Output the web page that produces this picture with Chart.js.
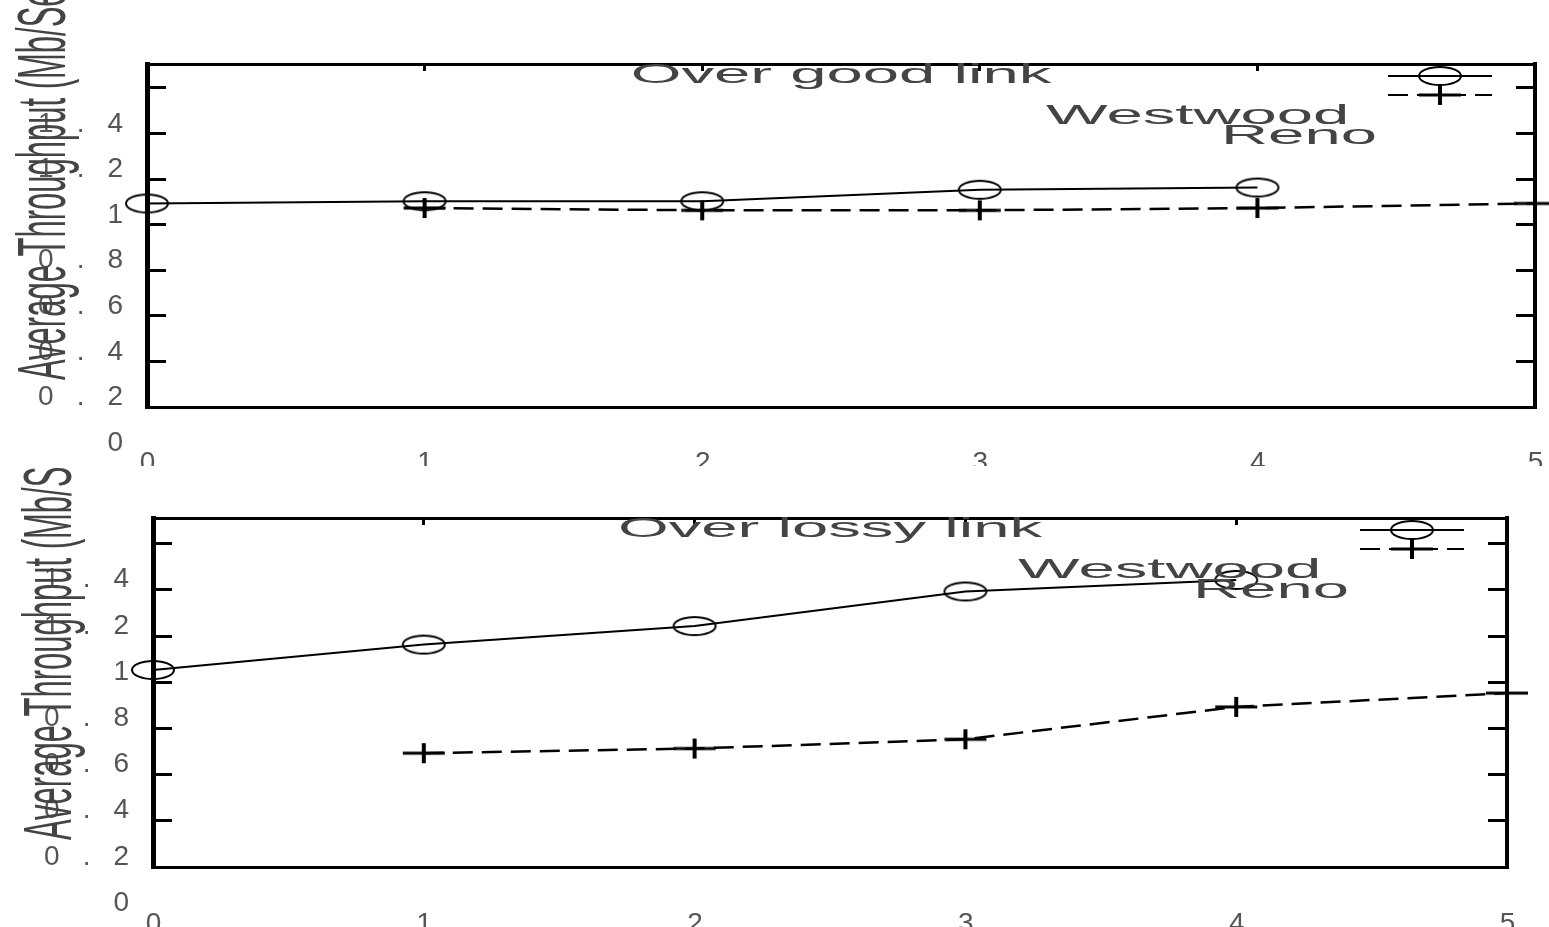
<!DOCTYPE html>
<html lang="en">
<head>
    <meta charset="UTF-8">
    <title>Average Throughput - Westwood vs Reno</title>
    <script src="https://cdn.jsdelivr.net/npm/chart.js"></script>
    <style>
        * {
            margin: 0;
            padding: 0;
            box-sizing: border-box;
        }

        body {
            background: #ffffff;
            width: 1549px;
            height: 927px;
            overflow: hidden;
        }

        .panel canvas {
            display: block;
        }
    </style>
</head>
<body>
    <div class="panel"><canvas id="goodChart" width="1549" height="466"></canvas></div>
    <div class="panel"><canvas id="lossyChart" width="1549" height="461"></canvas></div>

    <script>
        // x positions of each series (Reno is shifted one step right in the scan)
        const xTickLabels = [0, 1, 2, 3, 4, 5];
        const westwoodX = [0, 1, 2, 3, 4];
        const renoX = [1, 2, 3, 4, 5];

        // y tick labels; in the scan they sit about 0.157 below their tick marks
        const yTickLabels = [0, 0.2, 0.4, 0.6, 0.8, 1, 1.2, 1.4];
        const labelShift = 0.157;

        // Over good link
        const goodWestwood = [1.05, 1.06, 1.06, 1.11, 1.12];
        const goodReno = [1.03, 1.02, 1.02, 1.03, 1.05];

        // Over lossy link
        const lossyWestwood = [1.01, 1.12, 1.2, 1.35, 1.4];
        const lossyReno = [0.65, 0.67, 0.71, 0.85, 0.91];

        const yTitle = 'Average Throughput (Mb/Sec)';
        const FONT = '"Liberation Sans", Arial, sans-serif';
        const STRETCH = 2.33; // the scanned figure is stretched sideways

        Chart.defaults.font.family = FONT;

        function makeMarker(kind, w, h) {
            const c = document.createElement('canvas');
            c.width = w + 4;
            c.height = h + 4;
            const g = c.getContext('2d');
            g.strokeStyle = '#000';
            g.fillStyle = '#000';
            if (kind === 'ellipse') {
                g.lineWidth = 2;
                g.beginPath();
                g.ellipse(c.width / 2, c.height / 2, w / 2, h / 2, 0, 0, Math.PI * 2);
                g.stroke();
            } else {
                g.fillRect(2, c.height / 2 - 1.5, w, 3);
                g.fillRect(c.width / 2 - 2, 2, 4, h);
            }
            return c;
        }

        const ellipseMarker = makeMarker('ellipse', 42, 18);
        const plusMarker = makeMarker('plus', 42, 20);

        function stretchText(ctx, text, x, y, align) {
            ctx.save();
            ctx.translate(x, y);
            ctx.scale(STRETCH, 1);
            ctx.textAlign = align;
            ctx.fillText(text, 0, 0);
            ctx.restore();
        }

        // titles, rotated axis title and the odd legend of the scan
        const scanLook = {
            id: 'scanLook',
            beforeDraw(chart) {
                chart.ctx.letterSpacing = '23px';
            },
            afterDraw(chart, args, opts) {
                const { ctx, chartArea: a } = chart;
                ctx.save();
                ctx.letterSpacing = '0px';
                ctx.fillStyle = '#444';
                ctx.textBaseline = 'alphabetic';
                ctx.font = '28px ' + FONT;

                stretchText(ctx, opts.title, (a.left + a.right) / 2, a.top + 19, 'center');

                // legend samples
                chart.data.datasets.forEach((ds, i) => {
                    const y = a.top + 12 + i * 19;
                    ctx.beginPath();
                    ctx.setLineDash(ds.borderDash || []);
                    ctx.lineWidth = 2;
                    ctx.strokeStyle = '#000';
                    ctx.moveTo(a.right - 147, y);
                    ctx.lineTo(a.right - 43, y);
                    ctx.stroke();
                    const m = ds.pointStyle;
                    ctx.drawImage(m, a.right - 95 - m.width / 2, y - m.height / 2);
                });
                ctx.setLineDash([]);

                stretchText(ctx, chart.data.datasets[0].label, a.right - 489, a.top + 60, 'left');
                stretchText(ctx, chart.data.datasets[1].label, a.right - 314, a.top + 80, 'left');

                // y axis title
                ctx.font = '31px ' + FONT;
                ctx.translate(a.left - 82, a.bottom - 27);
                ctx.scale(2.2, 1);
                ctx.rotate(-Math.PI / 2);
                ctx.textAlign = 'left';
                ctx.fillText(opts.yTitle, 0, 0);
                ctx.restore();
            }
        };

        function points(xs, ys) {
            return xs.map((x, i) => ({ x: x, y: ys[i] }));
        }

        function buildChart(id, westwood, reno, yMax, box, title, xPad) {
            const tickFont = { family: FONT, size: 28 };
            const yTicks = s => { s.ticks = yTickLabels.map(v => ({ value: v + labelShift })); };
            const xTicks = s => { s.ticks = xTickLabels.map(v => ({ value: v })); };
            const tickMarks = { drawOnChartArea: false, tickLength: -19, lineWidth: 3, color: '#000' };

            return new Chart(document.getElementById(id), {
                type: 'line',
                data: {
                    datasets: [{
                        label: 'Westwood',
                        data: points(westwoodX, westwood),
                        borderColor: '#000',
                        borderWidth: 2,
                        pointStyle: ellipseMarker,
                        pointRadius: 6,
                        tension: 0,
                        clip: false
                    }, {
                        label: 'Reno',
                        data: points(renoX, reno),
                        borderColor: '#000',
                        borderWidth: 2.5,
                        borderDash: [20, 9],
                        pointStyle: plusMarker,
                        pointRadius: 6,
                        tension: 0,
                        clip: false
                    }]
                },
                options: {
                    responsive: false,
                    animation: false,
                    events: [],
                    layout: { padding: 0, autoPadding: false },
                    plugins: {
                        legend: { display: false },
                        tooltip: { enabled: false },
                        scanLook: { title: title, yTitle: yTitle }
                    },
                    scales: {
                        x: {
                            type: 'linear',
                            position: 'bottom',
                            min: 0,
                            max: 5,
                            afterBuildTicks: xTicks,
                            afterFit: s => { s.height = box.bottom; s.paddingLeft = 0; s.paddingRight = 0; },
                            grid: { display: false, drawTicks: false },
                            border: { color: '#000', width: 3 },
                            ticks: { color: '#555', font: tickFont, padding: xPad, labelOffset: 12, autoSkip: false, maxRotation: 0 }
                        },
                        x2: {
                            type: 'linear',
                            position: 'top',
                            min: 0,
                            max: 5,
                            afterBuildTicks: xTicks,
                            afterFit: s => { s.height = box.top; s.paddingLeft = 0; s.paddingRight = 0; },
                            grid: { drawOnChartArea: false, tickLength: -7, lineWidth: 3, color: '#000' },
                            border: { color: '#000', width: 3 },
                            ticks: { display: false }
                        },
                        y: {
                            type: 'linear',
                            position: 'left',
                            min: labelShift,
                            max: yMax,
                            afterBuildTicks: yTicks,
                            afterFit: s => { s.width = box.left; s.paddingTop = 0; s.paddingBottom = 0; },
                            grid: tickMarks,
                            border: { color: '#000', width: 5 },
                            ticks: {
                                color: '#555',
                                font: tickFont,
                                padding: 20,
                                labelOffset: 36,
                                autoSkip: false,
                                callback: (value, index) => String(yTickLabels[index])
                            }
                        },
                        y2: {
                            type: 'linear',
                            position: 'right',
                            min: labelShift,
                            max: yMax,
                            afterBuildTicks: yTicks,
                            afterFit: s => { s.width = box.right; s.paddingTop = 0; s.paddingBottom = 0; },
                            grid: tickMarks,
                            border: { color: '#000', width: 4 },
                            ticks: { display: false }
                        }
                    }
                },
                plugins: [scanLook]
            });
        }

        buildChart('goodChart', goodWestwood, goodReno, 1.662,
            { left: 147, right: 14, top: 64, bottom: 59 }, 'Over good link', 39);
        buildChart('lossyChart', lossyWestwood, lossyReno, 1.668,
            { left: 153, right: 42, top: 52, bottom: 60 }, 'Over lossy link', 40);
    </script>
</body>
</html>
